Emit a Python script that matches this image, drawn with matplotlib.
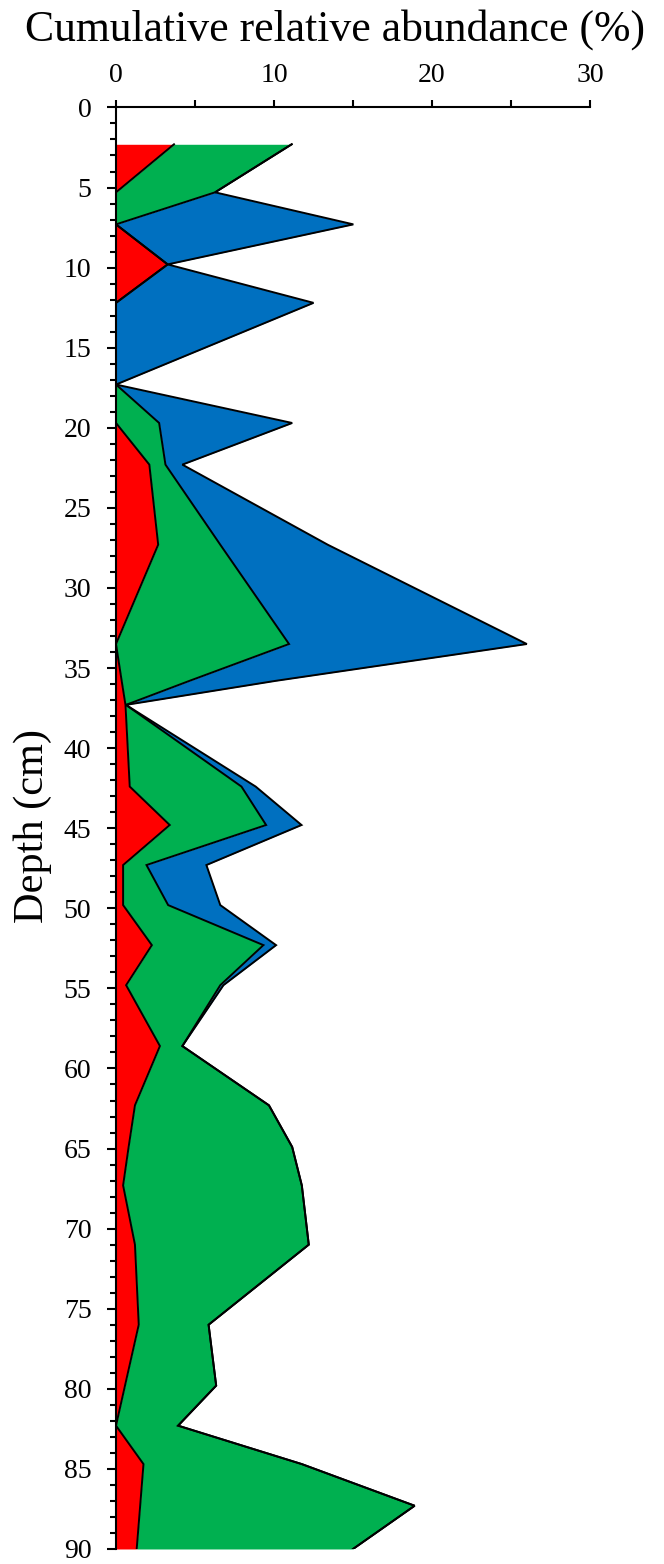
import numpy as np
import matplotlib
matplotlib.use("Agg")
import matplotlib.pyplot as plt
from matplotlib.ticker import MultipleLocator

plt.rcParams['font.family'] = ['Liberation Serif', 'DejaVu Serif']

# sample depths (cm)
depth = [2.3, 5.3, 7.3, 9.8, 12.2, 17.3, 19.7, 22.3, 27.3, 33.5, 35.8, 37.3,
         42.4, 44.8, 47.3, 49.8, 52.3, 54.8, 58.6, 62.3, 64.9, 67.3, 71.0,
         76.0, 79.8, 82.3, 84.7, 87.3, 90.0]

# cumulative relative abundance (%)
cum_red = [3.67, 0, 0, 3.27, 0, 0, 0, 2.11, 2.67, 0, 0.36, 0.6,
           0.87, 3.4, 0.45, 0.45, 2.27, 0.64, 2.78, 1.2, 0.8, 0.45, 1.2,
           1.44, 0.57, 0, 1.74, 1.53, 1.31]
cum_green = [11.12, 6.27, 0, 3.27, 0, 0, 2.73, 3.13, 6.6, 10.95, 4.65, 0.63,
             7.94, 9.5, 1.93, 3.3, 9.33, 6.6, 4.2, 9.68, 11.15, 11.76, 12.2,
             5.86, 6.34, 3.93, 11.76, 18.9, 15.0]
cum_blue = [11.12, 6.27, 15.02, 3.27, 12.5, 0, 11.15, 4.2, 13.4, 26.0, 10.1, 0.63,
            8.84, 11.74, 5.72, 6.6, 10.13, 6.8, 4.2, 9.68, 11.15, 11.76, 12.2,
            5.86, 6.34, 3.93, 11.76, 18.9, 15.0]

fig = plt.figure(figsize=(6.64, 15.64), dpi=100)
ax = fig.add_axes([0.1747, 0.0096, 0.7139, 0.9217])

ax.fill_betweenx(depth, cum_green, cum_blue, color='#0070C0', linewidth=0)
ax.fill_betweenx(depth, cum_red, cum_green, color='#00B050', linewidth=0)
ax.fill_betweenx(depth, 0, cum_red, color='#FF0000', linewidth=0)
for c in (cum_blue, cum_green, cum_red):
    ax.plot(c, depth, color='black', lw=1.4, solid_joinstyle='miter')

ax.set_xlim(0, 30)
ax.set_ylim(90, 0)
ax.xaxis.set_major_locator(MultipleLocator(10))
ax.xaxis.set_minor_locator(MultipleLocator(5))
ax.yaxis.set_major_locator(MultipleLocator(5))
ax.yaxis.set_minor_locator(MultipleLocator(1))
ax.xaxis.tick_top()
ax.spines['right'].set_visible(False)
ax.spines['bottom'].set_visible(False)
ax.spines['top'].set_linewidth(1.5)
ax.spines['left'].set_linewidth(1.5)
ax.tick_params(axis='x', which='both', direction='out', length=4.8, width=1.5,
               labelsize=20, pad=9)
ax.tick_params(axis='y', which='major', direction='out', length=6.7, width=1.5,
               labelsize=20, pad=11)
ax.tick_params(axis='y', which='minor', direction='out', length=4.3, width=1.5)

fig.text(0.5045, 0.9744, 'Cumulative relative abundance (%)', fontsize=31.5,
         ha='center', va='baseline')
fig.text(0.0497, 0.472, 'Depth (cm)', fontsize=30.5, rotation=90,
         ha='center', va='center')

fig.savefig('out.png', dpi=100)
